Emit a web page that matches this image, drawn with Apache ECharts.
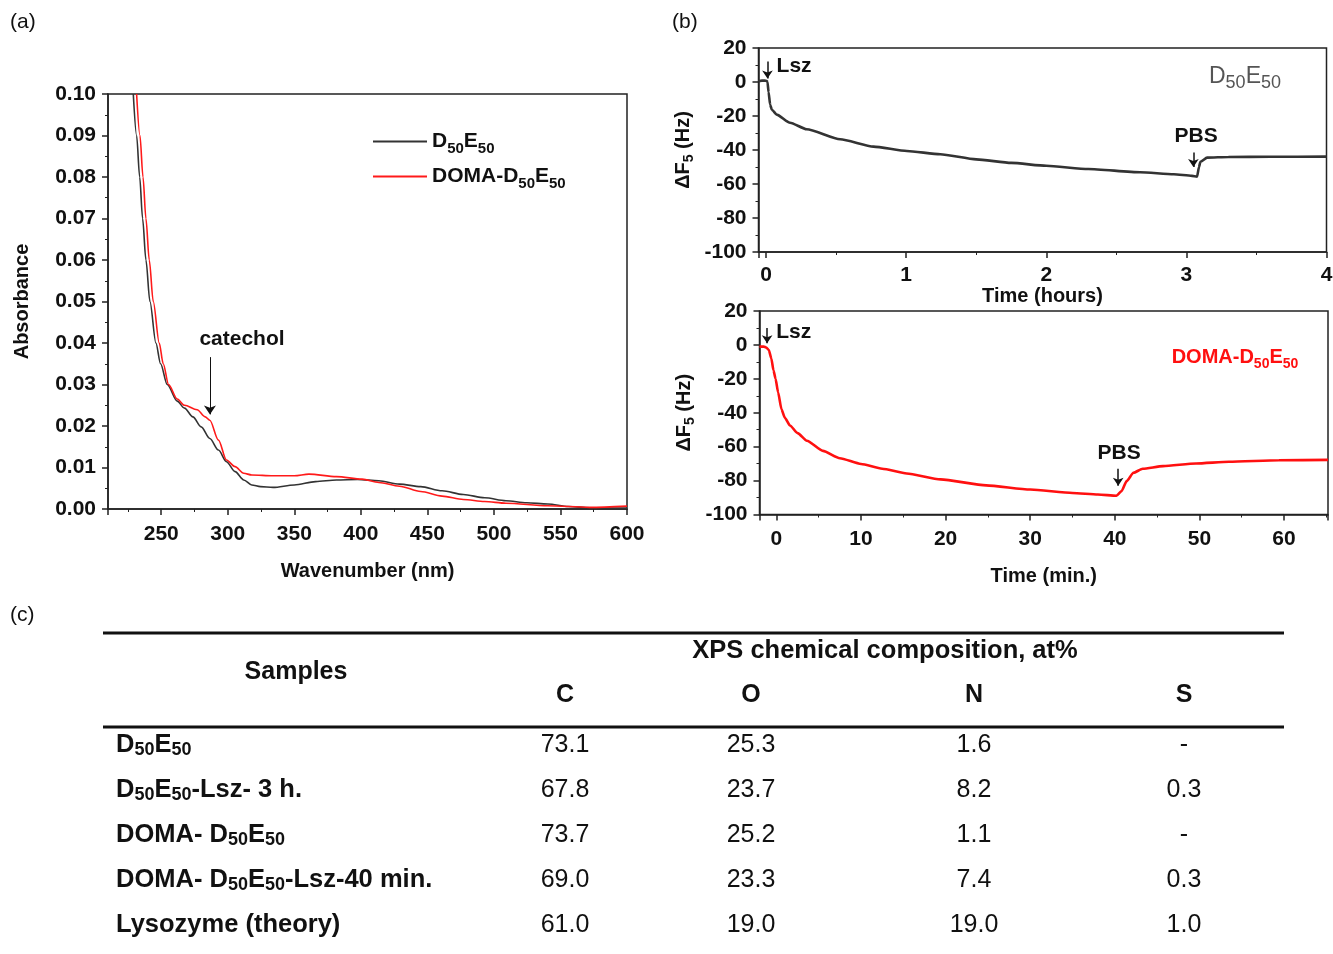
<!DOCTYPE html>
<html>
<head>
<meta charset="utf-8">
<title>UV-vis, QCM and XPS</title>
<script src="https://cdn.jsdelivr.net/npm/echarts@6/dist/echarts.min.js"></script>
<style>
html, body { margin: 0; padding: 0; background: #fff; }
#main { width: 1333px; height: 954px; }
</style>
</head>
<body>
<div id="main"></div>
<script>
/* (a) UV-vis spectra */
var uvWaveD = [229, 231.5, 233.8, 236, 238.5, 241.5, 246, 249.5, 254.5, 262, 267.5, 273.8, 280, 286.5, 293, 299, 305.5, 312, 318, 324.6, 334, 350, 366, 381.7, 397.6, 413.5, 429, 445, 461, 477, 493, 509, 524.6, 540.5, 556, 572, 600];
var uvAbsD = [0.100, 0.090, 0.080, 0.070, 0.060, 0.050, 0.040, 0.035, 0.030, 0.026, 0.0243, 0.0222, 0.0198, 0.0170, 0.0142, 0.0114, 0.0090, 0.0070, 0.0058, 0.0054, 0.0052, 0.0058, 0.0066, 0.0070, 0.0071, 0.0068, 0.0060, 0.0054, 0.0044, 0.0035, 0.0027, 0.0020, 0.0015, 0.0012, 0.0006, 0.0003, 0.0002];
var uvWaveDoma = [231.5, 234, 236.3, 238.5, 241, 244, 248.5, 251.5, 255.5, 262, 267.5, 277, 283, 286.5, 293, 299, 305.5, 312, 318, 334, 350, 361, 381.7, 401, 413.5, 429, 445, 461, 477, 493, 509, 540.5, 572, 600];
var uvAbsDoma = [0.100, 0.090, 0.080, 0.070, 0.060, 0.050, 0.040, 0.035, 0.030, 0.0265, 0.0250, 0.0239, 0.0222, 0.0214, 0.0166, 0.0118, 0.0102, 0.0086, 0.0082, 0.0080, 0.0080, 0.0084, 0.0078, 0.0072, 0.0064, 0.0055, 0.0042, 0.0031, 0.0023, 0.0018, 0.0014, 0.0008, 0.0004, 0.0007];

/* (b) QCM, D50E50 (hours) */
var qcmHoursD = [-0.054, -0.03, -0.01, 0.005, 0.01, 0.018, 0.029, 0.041, 0.076, 0.171, 0.29, 0.529, 0.767, 1.005, 1.243, 1.5, 1.75, 2.0, 2.3, 2.67, 2.91, 3.04, 3.076, 3.09, 3.1, 3.148, 3.3, 3.6, 4.0];
var qcmShiftD = [0.5, 0.8, 0.8, 0.6, 0, -6, -13.3, -16.3, -19.2, -24, -27.8, -33.7, -38, -40.6, -42.5, -45.5, -47.6, -49.3, -51.2, -53.1, -54.3, -55.2, -55.7, -50, -46.9, -44.5, -44.1, -44, -43.9];

/* (b) QCM, DOMA-D50E50 (minutes) */
var qcmMinDoma = [-2, -1.5, -1.2, -0.9, -0.6, -0.35, -0.1, 0.2, 0.6, 1.0, 1.6, 2.5, 3.6, 5.5, 7.5, 10, 12.5, 15.4, 19.4, 24.8, 30, 35, 38, 40.2, 40.8, 41.4, 42.2, 43.3, 45.7, 49.6, 53.5, 59.4, 65.2];
var qcmShiftDoma = [-1, -1, -1.5, -3, -8, -15, -20, -28, -38, -43, -47.5, -52, -56.5, -62.5, -66.8, -70.2, -73, -75.8, -79.3, -82.8, -85.3, -87.3, -88.2, -88.9, -86.2, -80.3, -75.4, -73, -71.5, -69.9, -68.9, -68, -67.8];

/* (c) XPS table */
var xpsSamples = ['D_50E_50', 'D_50E_50-Lsz- 3 h.', 'DOMA- D_50E_50', 'DOMA- D_50E_50-Lsz-40 min.', 'Lysozyme (theory)'];
var xpsElements = ['C', 'O', 'N', 'S'];
var xpsC = ['73.1', '67.8', '73.7', '69.0', '61.0'];
var xpsO = ['25.3', '23.7', '25.2', '23.3', '19.0'];
var xpsN = ['1.6', '8.2', '1.1', '7.4', '19.0'];
var xpsS = ['-', '0.3', '-', '0.3', '1.0'];

var FONT = "'Liberation Sans', Arial, Helvetica, sans-serif";
var INK = '#111';

function pairs(xs, ys) {
	var out = [];
	for (var i = 0; i < xs.length; i++) out.push([xs[i], ys[i]]);
	return out;
}

// 'D_50E_50' -> rich text with subscripts
function richName(s) {
	return ('{b|' + s.replace(/_(\d+)/g, '}{s|$1}{b|') + '}').replace(/\{b\|\}/g, '');
}

// drop = how far the subscript sits below the main text
function richStyle(size, subSize, weight, color, drop) {
	return {
		b: { fontFamily: FONT, fontSize: size, fontWeight: weight, color: color, fill: color, lineHeight: size + drop },
		s: { fontFamily: FONT, fontSize: subSize, fontWeight: weight, color: color, fill: color, verticalAlign: 'bottom', lineHeight: subSize }
	};
}

// common axis look
function axisStyle(extra) {
	var base = {
		type: 'value',
		axisLine: { show: true, onZero: false, lineStyle: { color: '#222', width: 1.5 } },
		axisTick: { show: true, inside: false, length: 6, lineStyle: { color: '#222', width: 1.5 } },
		minorTick: { show: true, splitNumber: 2, length: 3, lineStyle: { color: '#222', width: 1 } },
		splitLine: { show: false },
		minorSplitLine: { show: false },
		axisLabel: { fontFamily: FONT, fontSize: 21, fontWeight: 'bold', color: INK },
		nameLocation: 'middle',
		nameTextStyle: { fontFamily: FONT, fontSize: 20, fontWeight: 'bold', color: INK }
	};
	for (var k in extra) {
		if (typeof extra[k] === 'object' && base[k] && !Array.isArray(extra[k])) {
			base[k] = Object.assign({}, base[k], extra[k]);
		} else {
			base[k] = extra[k];
		}
	}
	return base;
}

function arrow(x, y1, y2) {
	return [{ coord: [x, y1] }, { coord: [x, y2] }];
}

function note(text, x, y) {
	return { name: text, coord: [x, y] };
}

var noteStyle = {
	symbol: 'rect',
	symbolSize: 1,
	silent: true,
	itemStyle: { color: 'rgba(0,0,0,0)' },
	label: { show: true, position: 'inside', formatter: '{b}', fontFamily: FONT, fontSize: 21, fontWeight: 'bold', color: INK }
};

function marks(arrows, notes, head, width) {
	return {
		markLine: {
			silent: true,
			symbol: ['none', 'arrow'],
			symbolSize: head,
			label: { show: false },
			lineStyle: { color: INK, width: width, type: 'solid' },
			data: arrows
		},
		markPoint: Object.assign({ data: notes }, noteStyle)
	};
}

var myChart = echarts.init(document.getElementById('main'));

var legendNames = { 'D50E50': 'D_50E_50', 'DOMA-D50E50': 'DOMA-D_50E_50' };

/* table drawn as graphic elements */
var TABLE = { left: 103, right: 1284, rule1: 633, rule2: 727, samplesX: 296, samplesY: 672, headX: 885, headY: 651, colX: [565, 751, 974, 1184], colY: 695, nameX: 116, rowY0: 745, rowStep: 45 };

function tableGraphic() {
	var g = [];
	var cols = [xpsC, xpsO, xpsN, xpsS];
	[TABLE.rule1, TABLE.rule2].forEach(function(y) {
		g.push({ type: 'line', shape: { x1: TABLE.left, y1: y, x2: TABLE.right, y2: y }, style: { stroke: '#111', lineWidth: 3 } });
	});
	g.push({ type: 'text', style: { text: 'Samples', x: TABLE.samplesX, y: TABLE.samplesY, fontFamily: FONT, fontSize: 25, fontWeight: 'bold', fill: INK, align: 'center', verticalAlign: 'middle' } });
	g.push({ type: 'text', style: { text: 'XPS chemical composition, at%', x: TABLE.headX, y: TABLE.headY, fontFamily: FONT, fontSize: 25.5, fontWeight: 'bold', fill: INK, align: 'center', verticalAlign: 'middle' } });
	xpsElements.forEach(function(el, j) {
		g.push({ type: 'text', style: { text: el, x: TABLE.colX[j], y: TABLE.colY, fontFamily: FONT, fontSize: 25, fontWeight: 'bold', fill: INK, align: 'center', verticalAlign: 'middle' } });
	});
	xpsSamples.forEach(function(name, i) {
		var y = TABLE.rowY0 + i * TABLE.rowStep;
		g.push({ type: 'text', style: { text: richName(name), rich: richStyle(25.5, 18, 'bold', INK, 3), x: TABLE.nameX, y: y, fontFamily: FONT, fontSize: 25.5, fontWeight: 'bold', fill: INK, align: 'left', verticalAlign: 'middle' } });
		cols.forEach(function(col, j) {
			g.push({ type: 'text', style: { text: col[i], x: TABLE.colX[j], y: y, fontFamily: FONT, fontSize: 25, fill: INK, align: 'center', verticalAlign: 'middle' } });
		});
	});
	return g;
}

var panelLabels = [
	{ type: 'text', style: { text: '(a)', x: 10, y: 22, fontFamily: FONT, fontSize: 21, fill: INK, verticalAlign: 'middle' } },
	{ type: 'text', style: { text: '(b)', x: 672, y: 22, fontFamily: FONT, fontSize: 21, fill: INK, verticalAlign: 'middle' } },
	{ type: 'text', style: { text: '(c)', x: 10, y: 615, fontFamily: FONT, fontSize: 21, fill: INK, verticalAlign: 'middle' } },
	{ type: 'text', style: { text: richName('D_50E_50'), rich: richStyle(23, 18, 'normal', '#555', 8), x: 1245, y: 77, fontFamily: FONT, fontSize: 23, fill: '#555', align: 'center', verticalAlign: 'middle' } },
	{ type: 'text', style: { text: richName('DOMA-D_50E_50'), rich: richStyle(20, 14, 'bold', '#ff1010', 8), x: 1235, y: 357, fontFamily: FONT, fontSize: 20, fontWeight: 'bold', fill: '#ff1010', align: 'center', verticalAlign: 'middle' } }
];

var option = {
	animation: false,
	backgroundColor: '#fff',
	textStyle: { fontFamily: FONT },
	grid: [
		{ left: 108, top: 94, width: 519, height: 415, show: true, borderColor: '#222', borderWidth: 1.5, outerBoundsMode: 'none', containLabel: false },
		{ left: 758.5, top: 48, width: 568, height: 204, show: true, borderColor: '#222', borderWidth: 1.5, outerBoundsMode: 'none', containLabel: false },
		{ left: 759.5, top: 311, width: 568.5, height: 203.5, show: true, borderColor: '#222', borderWidth: 1.5, outerBoundsMode: 'none', containLabel: false }
	],
	legend: {
		left: 373,
		top: 131,
		padding: 0,
		orient: 'vertical',
		icon: 'rect',
		itemWidth: 54,
		itemHeight: 2,
		itemGap: 10,
		data: ['D50E50', 'DOMA-D50E50'],
		formatter: function(name) { return richName(legendNames[name]); },
		textStyle: { fontFamily: FONT, fontSize: 21, fontWeight: 'bold', color: INK, rich: richStyle(21, 15, 'bold', INK, 8) }
	},
	xAxis: [
		axisStyle({
			gridIndex: 0, min: 210, max: 600, splitNumber: 8,
			axisLabel: { margin: 15, showMinLabel: false, showMaxLabel: true },
			name: 'Wavenumber (nm)', nameGap: 52
		}),
		axisStyle({
			gridIndex: 1, min: -0.054, max: 4, splitNumber: 4,
			axisLabel: { margin: 13, showMinLabel: false, showMaxLabel: true },
			name: 'Time (hours)', nameGap: 33
		}),
		axisStyle({
			gridIndex: 2, min: -2, max: 65.2, splitNumber: 7,
			axisLabel: { margin: 14, showMinLabel: false, showMaxLabel: false },
			name: 'Time (min.)', nameGap: 52
		})
	],
	yAxis: [
		axisStyle({
			gridIndex: 0, min: 0, max: 0.1, interval: 0.01,
			axisLabel: { margin: 12, formatter: function(v) { return v.toFixed(2); } },
			name: 'Absorbance', nameGap: 76
		}),
		axisStyle({
			gridIndex: 1, min: -100, max: 20, interval: 20,
			axisLabel: { margin: 12 },
			name: richName('ΔF_5 (Hz)'), nameGap: 62,
			nameTextStyle: { rich: richStyle(20, 14, 'bold', INK, 6) }
		}),
		axisStyle({
			gridIndex: 2, min: -100, max: 20, interval: 20,
			axisLabel: { margin: 12 },
			name: richName('ΔF_5 (Hz)'), nameGap: 62,
			nameTextStyle: { rich: richStyle(20, 14, 'bold', INK, 6) }
		})
	],
	series: [
		{
			name: 'D50E50', type: 'line', xAxisIndex: 0, yAxisIndex: 0,
			data: pairs(uvWaveD, uvAbsD), showSymbol: false, smooth: 0.3, smoothMonotone: 'x',
			color: '#333', lineStyle: { color: '#333', width: 1.6 }
		},
		Object.assign({
			name: 'DOMA-D50E50', type: 'line', xAxisIndex: 0, yAxisIndex: 0,
			data: pairs(uvWaveDoma, uvAbsDoma), showSymbol: false, smooth: 0.3, smoothMonotone: 'x',
			color: '#ff1a1a', lineStyle: { color: '#ff1a1a', width: 1.6 }
		}, marks([arrow(286.6, 0.0366, 0.0228)], [note('catechol', 310.7, 0.041)], 9, 1)),
		Object.assign({
			name: 'QCM D50E50', type: 'line', xAxisIndex: 1, yAxisIndex: 1,
			data: pairs(qcmHoursD, qcmShiftD), showSymbol: false, smooth: 0.2, smoothMonotone: 'x',
			color: '#333', lineStyle: { color: '#333', width: 2.6 }
		}, marks([arrow(0.01, 12, 2), arrow(3.05, -41.5, -50)], [note('Lsz', 0.2, 9.5), note('PBS', 3.07, -31.6)], 8, 1.5)),
		Object.assign({
			name: 'QCM DOMA-D50E50', type: 'line', xAxisIndex: 2, yAxisIndex: 2,
			data: pairs(qcmMinDoma, qcmShiftDoma), showSymbol: false, smooth: 0.2, smoothMonotone: 'x',
			color: '#ff1010', lineStyle: { color: '#ff1010', width: 2.6 }
		}, marks([arrow(-1.1, 10, 1), arrow(40.4, -73, -83)], [note('Lsz', 2.05, 7.5), note('PBS', 40.5, -63.6)], 8, 1.5))
	],
	graphic: panelLabels.concat(tableGraphic())
};

myChart.setOption(option);
</script>
</body>
</html>
